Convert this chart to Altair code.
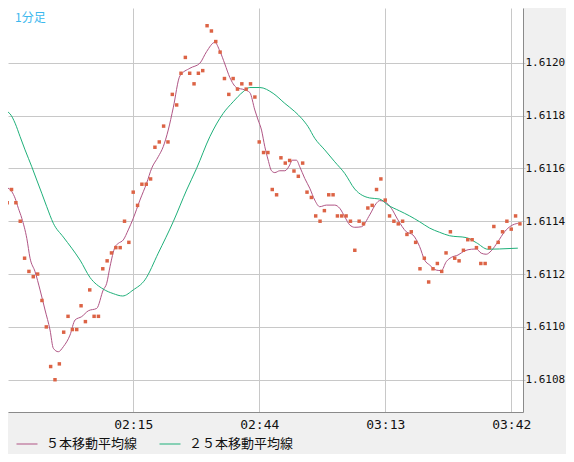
import altair as alt
import pandas as pd

# ---- data ----
start_label = "01:46"          # time of the first bar (minute 0)
bar_minutes = list(range(119))  # one bar per minute
close = [1.61147, 1.61152, 1.61147, 1.61140, 1.61126, 1.61121, 1.61119, 1.61120, 1.61110, 1.61100,
         1.61085, 1.61080, 1.61086, 1.61098, 1.61104, 1.61099, 1.61099, 1.61108, 1.61102, 1.61114,
         1.61104, 1.61104, 1.61122, 1.61125, 1.61128, 1.61130, 1.61130, 1.61140, 1.61132, 1.61151,
         1.61146, 1.61154, 1.61154, 1.61156, 1.61168, 1.61170, 1.61176, 1.61170, 1.61188, 1.61184,
         1.61196, 1.61202, 1.61196, 1.61192, 1.61196, 1.61197, 1.61214, 1.61212, 1.61208, 1.61204,
         1.61194, 1.61188, 1.61194, 1.61190, 1.61192, 1.61190, 1.61192, 1.61187, 1.61170, 1.61166,
         1.61166, 1.61152, 1.61150, 1.61164, 1.61162, 1.61163, 1.61159, 1.61157, 1.61162, 1.61151,
         1.61149, 1.61142, 1.61140, 1.61144, 1.61150, 1.61150, 1.61142, 1.61142, 1.61142, 1.61140,
         1.61129, 1.61140, 1.61139, 1.61145, 1.61146, 1.61152, 1.61156, 1.61148, 1.61142, 1.61140,
         1.61139, 1.61140, 1.61135, 1.61136, 1.61132, 1.61122, 1.61126, 1.61117, 1.61122, 1.61124,
         1.61121, 1.61128, 1.61136, 1.61126, 1.61125, 1.61129, 1.61133, 1.61133, 1.61130, 1.61124,
         1.61124, 1.61130, 1.61138, 1.61132, 1.61136, 1.61140, 1.61137, 1.61142, 1.61139]

ma5_t = [-1.17, -0.09, 1.06, 1.82, 2.57, 3.36, 4.51, 5.26, 6.41, 7.56, 8.71, 9.86, 10.62, 11.77,
         12.92, 14.46, 15.61, 17.15, 18.67, 20.60, 22.11, 22.90, 23.66, 24.80, 25.56, 26.71, 27.86,
         29.01, 30.55, 32.09, 33.24, 34.76, 35.91, 37.06, 38.21, 39.75, 42.05, 44.34, 45.89, 47.79,
         48.94, 50.09, 51.24, 52.78, 54.69, 55.84, 56.99, 57.75, 58.53, 59.29, 60.05, 60.83, 61.59,
         62.74, 63.89, 65.03, 65.56, 66.57, 67.33, 68.48, 69.63, 70.78, 71.93, 73.47, 75.38, 76.53,
         77.68, 78.83, 79.98, 81.52, 83.43, 84.97, 85.72, 86.87, 88.41, 89.93, 91.86, 93.38, 94.92,
         96.07, 97.22, 98.76, 99.91, 101.06, 102.21, 103.75, 105.29, 106.83, 107.95, 109.10, 110.25,
         111.40, 112.92, 114.46, 116.00, 117.52]
ma5_v = [1.611530, 1.611527, 1.611512, 1.611487, 1.611449, 1.611411, 1.611335, 1.611260, 1.611209,
         1.611140, 1.611064, 1.610988, 1.610919, 1.610906, 1.610925, 1.610969, 1.611026, 1.611039,
         1.611061, 1.611070, 1.611140, 1.611165, 1.611228, 1.611302, 1.611316, 1.611329, 1.611367,
         1.611411, 1.611480, 1.611544, 1.611600, 1.611644, 1.611682, 1.611745, 1.611829, 1.611950,
         1.611979, 1.611998, 1.612042, 1.612077, 1.612044, 1.611995, 1.611944, 1.611906, 1.611897,
         1.611887, 1.611821, 1.611783, 1.611745, 1.611682, 1.611632, 1.611591, 1.611584, 1.611591,
         1.611591, 1.611613, 1.611631, 1.611631, 1.611606, 1.611562, 1.611525, 1.611480, 1.611455,
         1.611461, 1.611461, 1.611449, 1.611417, 1.611386, 1.611377, 1.611379, 1.611424, 1.611468,
         1.611478, 1.611474, 1.611449, 1.611405, 1.611360, 1.611348, 1.611304, 1.611253, 1.611234,
         1.611215, 1.611213, 1.611247, 1.611263, 1.611272, 1.611288, 1.611294, 1.611295, 1.611279,
         1.611275, 1.611288, 1.611322, 1.611360, 1.611383, 1.611392]

ma25_t = [-1.17, 0.67, 1.82, 2.97, 4.11, 5.66, 6.80, 7.95, 9.10, 10.62, 12.92, 14.85, 16.76, 19.06,
          22.11, 24.41, 26.57, 29.01, 31.70, 34.76, 38.21, 41.29, 43.59, 46.64, 49.70, 52.00, 54.30,
          55.84, 58.14, 61.20, 63.89, 66.18, 67.72, 69.24, 70.78, 73.08, 75.38, 77.68, 79.98, 83.43,
          85.72, 87.63, 90.32, 92.62, 94.92, 97.22, 99.52, 101.82, 105.66, 107.95, 110.62, 113.31,
          117.52]
ma25_v = [1.611823, 1.611806, 1.611771, 1.611720, 1.611670, 1.611606, 1.611556, 1.611506, 1.611455,
          1.611392, 1.611340, 1.611298, 1.611253, 1.611187, 1.611143, 1.611126, 1.611117, 1.611140,
          1.611178, 1.611279, 1.611398, 1.611518, 1.611600, 1.611720, 1.611808, 1.611852, 1.611890,
          1.611906, 1.611906, 1.611884, 1.611846, 1.611815, 1.611790, 1.611758, 1.611714, 1.611670,
          1.611625, 1.611581, 1.611522, 1.611488, 1.611484, 1.611461, 1.611439, 1.611420, 1.611398,
          1.611374, 1.611358, 1.611345, 1.611338, 1.611319, 1.611294, 1.611295, 1.611298]

series_names = ["５本移動平均線", "２５本移動平均線"]
series_colors = ["#b05585", "#1fb07a"]
dot_color = "#dc6345"
corner_label = ["1分足"]
x_tick_minutes = [0, 29, 58, 87, 116]
y_ticks = [1.6108, 1.6110, 1.6112, 1.6114, 1.6116, 1.6118, 1.6120]

# ---- tables ----
dots = pd.DataFrame({"t": bar_minutes, "price": close})
lines = pd.concat([
    pd.DataFrame({"t": ma5_t, "price": ma5_v, "series": series_names[0], "order": 1}),
    pd.DataFrame({"t": ma25_t, "price": ma25_v, "series": series_names[1], "order": 0}),
], ignore_index=True)
label_df = pd.DataFrame({"label": corner_label})

x_scale = alt.Scale(domain=[0.184, 118.71], nice=False, zero=False)
y_scale = alt.Scale(domain=[1.6106779, 1.6122070], nice=False, zero=False)

sh, sm = start_label.split(":")
x_axis = alt.Axis(
    values=x_tick_minutes, title=None, grid=True, ticks=False,
    domain=True, domainColor="#8a8a8a",
    labelExpr=f"datum.value == 0 ? '' : timeFormat(datetime(2000, 0, 1, {int(sh)}, {int(sm)} + datum.value), '%H:%M')",
    labelFont="DejaVu Sans Mono", labelFontSize=13, labelColor="#111111",
    labelPadding=6, labelFlush=False, labelOverlap=False,
    gridColor="#c8c8c8",
)
y_axis = alt.Axis(
    values=y_ticks, orient="right", format=".4f", title=None, grid=True,
    ticks=True, tickSize=2, tickColor="#c8c8c8", domain=True, domainColor="#8a8a8a",
    labelFont="DejaVu Sans Mono", labelFontSize=11, labelColor="#111111",
    labelAlign="left", labelBaseline="middle", labelPadding=0,
    labelFlush=False, labelOverlap=False, gridColor="#c8c8c8",
)

X = alt.X("t:Q", scale=x_scale, axis=x_axis)
Y = alt.Y("price:Q", scale=y_scale, axis=y_axis)

line_layer = alt.Chart(lines).mark_line(strokeWidth=1, interpolate="monotone").encode(
    x=X, y=Y,
    color=alt.Color(
        "series:N",
        scale=alt.Scale(domain=series_names, range=series_colors),
        legend=alt.Legend(
            orient="none", legendX=8, legendY=425, direction="horizontal", title=None,
            symbolType="stroke", symbolSize=441, symbolStrokeWidth=1,
            labelFont="Noto Sans CJK JP", labelFontSize=13, labelColor="#111111",
            labelOffset=8, columnPadding=19, padding=0, labelLimit=0,
        ),
        sort=series_names,
    ),
    order=alt.Order("order:Q"),
    detail="series:N",
)

dot_layer = alt.Chart(dots).mark_square(size=12, color=dot_color, opacity=1).encode(x=X, y=Y)

text_layer = alt.Chart(label_df).mark_text(
    align="left", baseline="top", font="Noto Sans CJK JP", fontSize=12, color="#3cb8ee"
).encode(x=alt.value(7), y=alt.value(5), text="label:N")

chart = alt.layer(line_layer, dot_layer, text_layer).properties(
    width=515, height=404,
    background="#f0f0f0",
    padding={"left": 0, "top": 0, "right": 43, "bottom": 42},
    autosize=alt.AutoSizeParams(type="none"),
).configure_view(fill="white", stroke=None)

chart.save("out.html", embed_options={"renderer": "svg", "actions": False})
